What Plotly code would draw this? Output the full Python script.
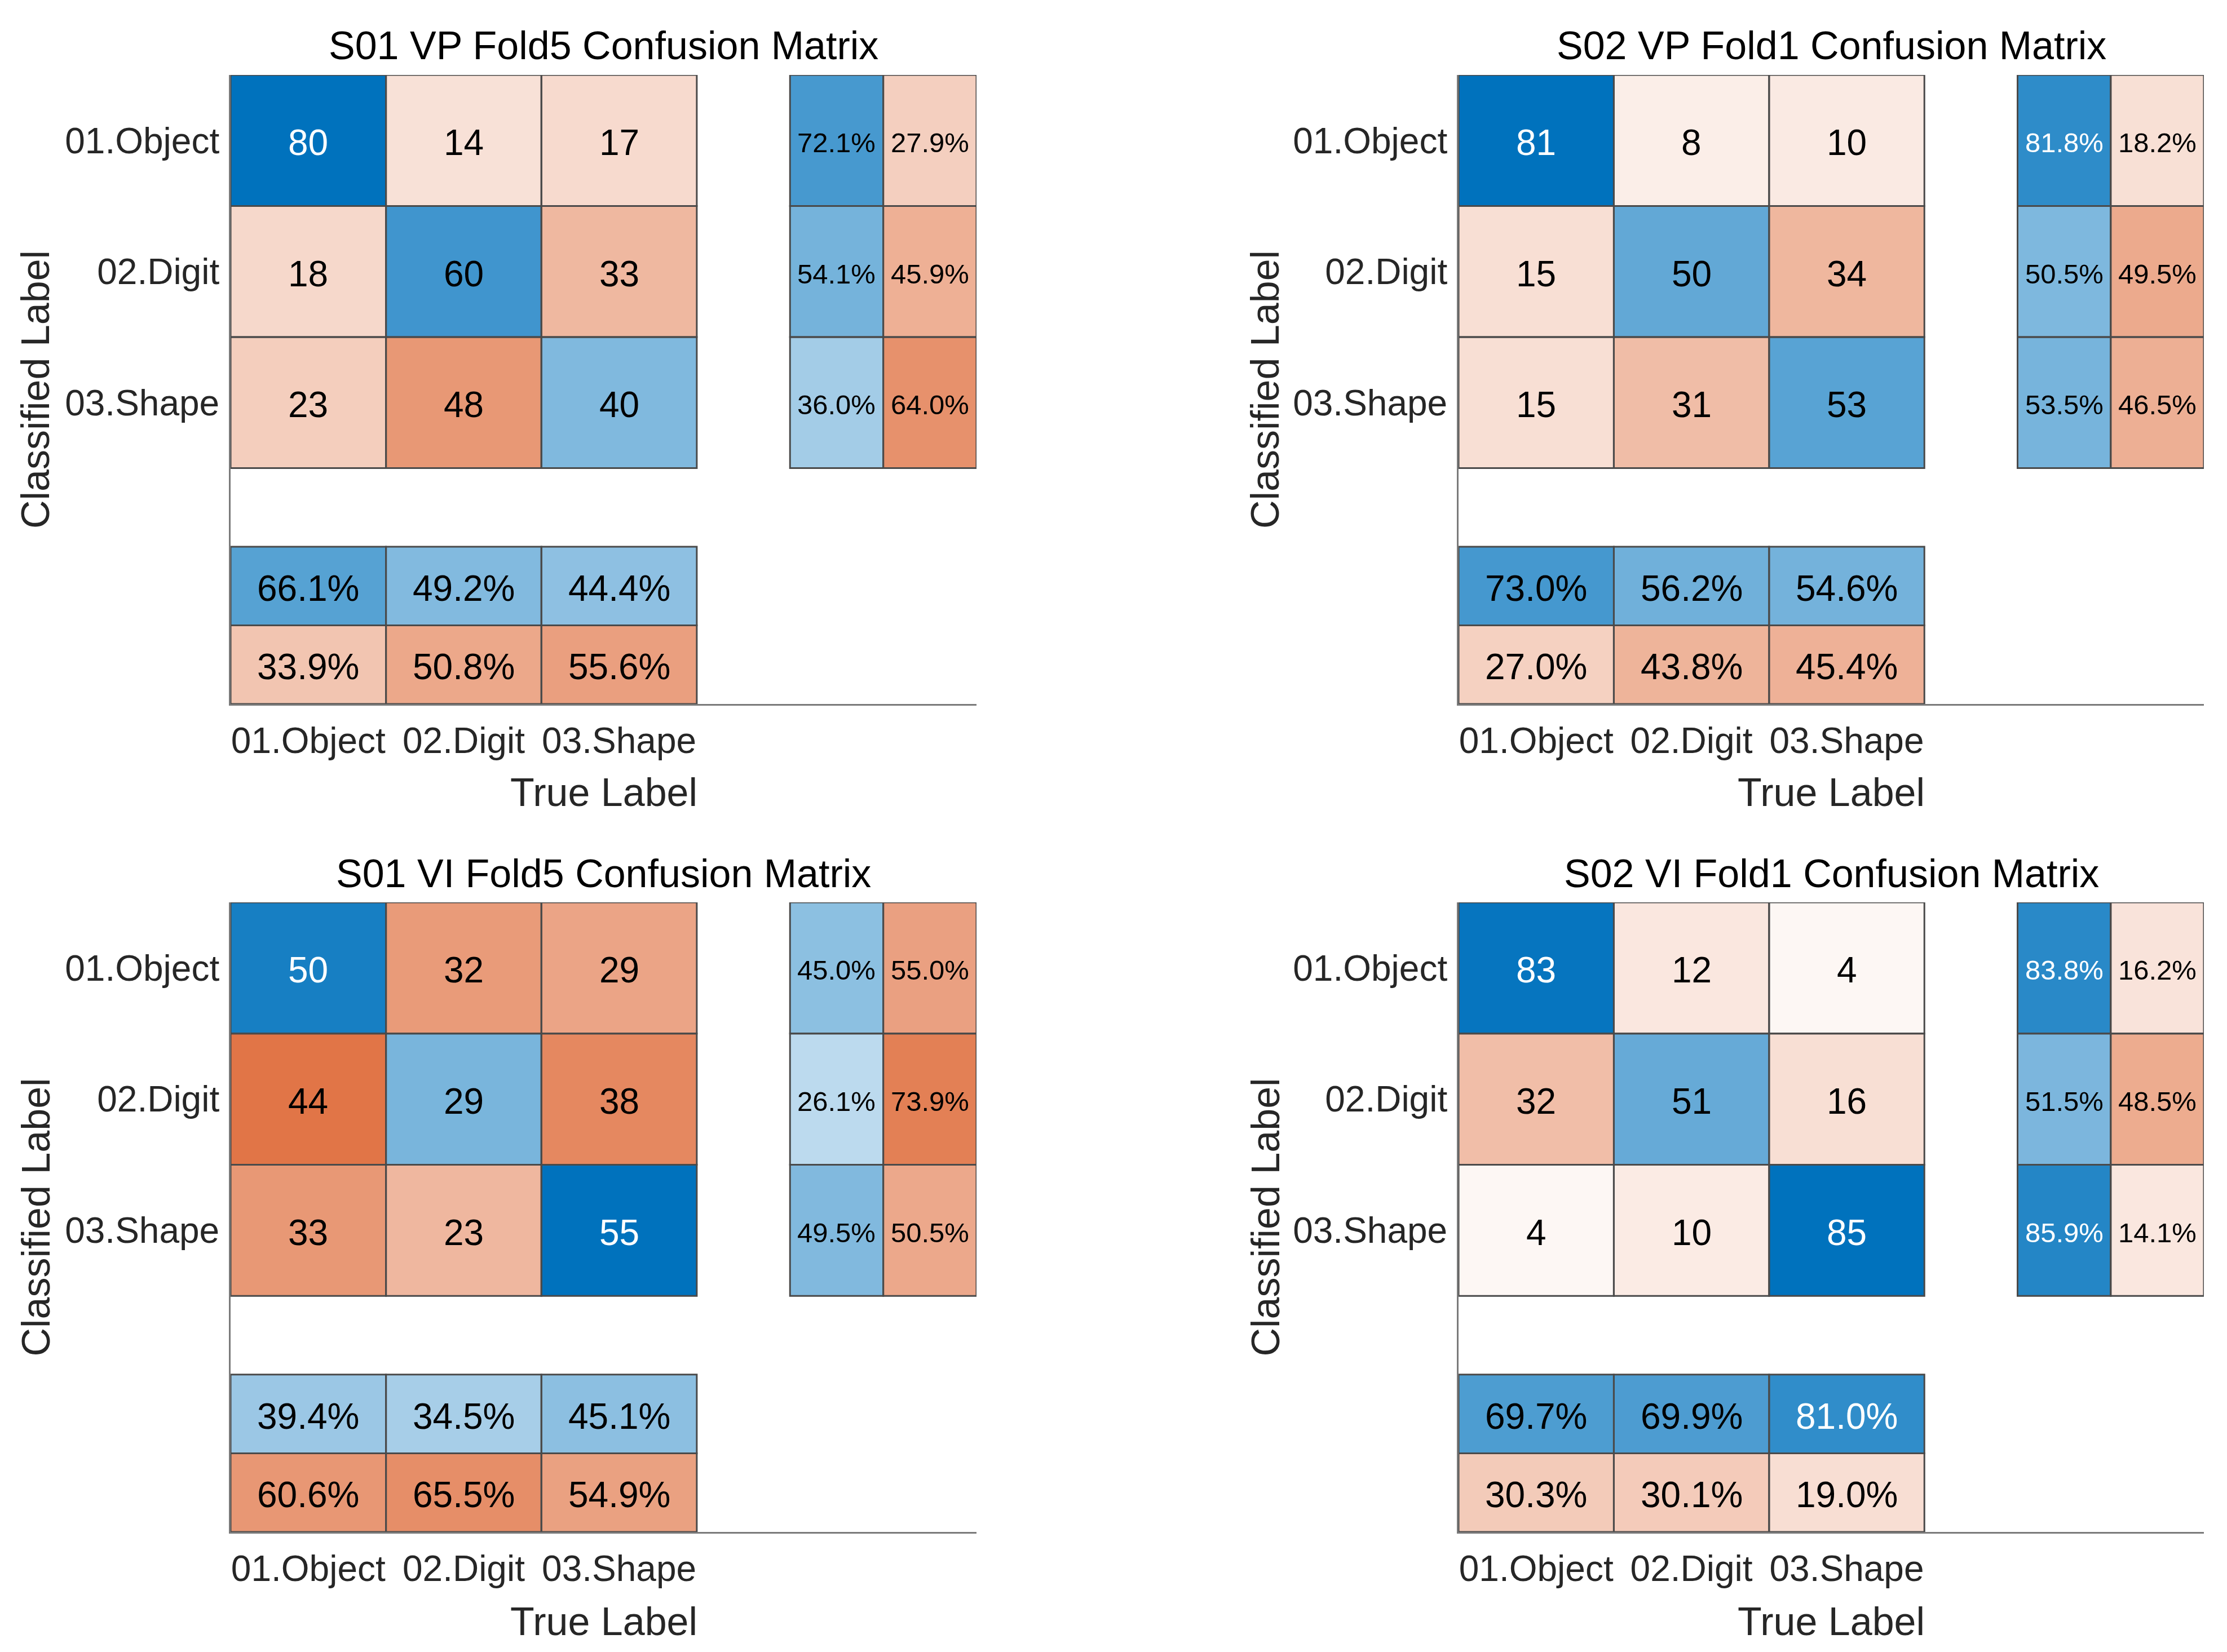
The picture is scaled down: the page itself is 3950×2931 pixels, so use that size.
import plotly.graph_objects as go

# ---------------- data ----------------
classes = ["01.Object", "02.Digit", "03.Shape"]
titles = ["S01 VP Fold5 Confusion Matrix", "S02 VP Fold1 Confusion Matrix",
          "S01 VI Fold5 Confusion Matrix", "S02 VI Fold1 Confusion Matrix"]

# rows = classified label, columns = true label
counts_s01_vp = [[80, 14, 17], [18, 60, 33], [23, 48, 40]]
counts_s02_vp = [[81, 8, 10], [15, 50, 34], [15, 31, 53]]
counts_s01_vi = [[50, 32, 29], [44, 29, 38], [33, 23, 55]]
counts_s02_vi = [[83, 12, 4], [32, 51, 16], [4, 10, 85]]

# row summary: [correct %, incorrect %] for each classified row
row_pct_s01_vp = [[72.1, 27.9], [54.1, 45.9], [36.0, 64.0]]
row_pct_s02_vp = [[81.8, 18.2], [50.5, 49.5], [53.5, 46.5]]
row_pct_s01_vi = [[45.0, 55.0], [26.1, 73.9], [49.5, 50.5]]
row_pct_s02_vi = [[83.8, 16.2], [51.5, 48.5], [85.9, 14.1]]

# column summary: first row correct %, second row incorrect % per true class
col_pct_s01_vp = [[66.1, 49.2, 44.4], [33.9, 50.8, 55.6]]
col_pct_s02_vp = [[73.0, 56.2, 54.6], [27.0, 43.8, 45.4]]
col_pct_s01_vi = [[39.4, 34.5, 45.1], [60.6, 65.5, 54.9]]
col_pct_s02_vi = [[69.7, 69.9, 81.0], [30.3, 30.1, 19.0]]

panels = [
    (counts_s01_vp, row_pct_s01_vp, col_pct_s01_vp),
    (counts_s02_vp, row_pct_s02_vp, col_pct_s02_vp),
    (counts_s01_vi, row_pct_s01_vi, col_pct_s01_vi),
    (counts_s02_vi, row_pct_s02_vi, col_pct_s02_vi),
]

# ---------------- style / layout ----------------
W, H = 3950, 2931
FONT = "Liberation Sans, Arial, Helvetica, sans-serif"
BLUE = "#0072BD"
RED = "#D95319"
EDGE = "#4a4a4a"
AXC = "#7a7a7a"
TXT = "#262626"
cs = [[0.0, RED], [0.5, "#FFFFFF"], [1.0, BLUE]]

GAP = 0.6     # gap between matrix and summaries (cell units)
SW = 0.6      # summary cell size (cell units)
TOTAL = 3 + GAP + 2 * SW
TSHIFT = -4   # small downward nudge of cell texts (px)

xdoms = [(409 / W, 1732 / W), (2587 / W, 3909 / W)]
ydoms = [(1 - 1249 / H, 1 - 133 / H), (1 - 2718 / H, 1 - 1601 / H)]
title_px_y = [81, 1550]
xlab_px_y = [1406, 2877]
ylab_px_x = [63, 2244]

main_c = [i + 0.5 for i in range(3)]
sum_c = [3 + GAP + SW * (k + 0.5) for k in range(2)]
main_e = [(i, i + 1) for i in range(3)]
sum_e = [(3 + GAP + SW * k, 3 + GAP + SW * (k + 1)) for k in range(2)]

fig = go.Figure()
shapes = []
annotations = []


def tcolor(v):
    return "white" if v > 0.805 else "black"


def cell_text(xa, ya, x, y, text, color, size):
    annotations.append(dict(text=text, xref=xa, yref=ya, x=x, y=y, xanchor="center",
                            yanchor="middle", yshift=TSHIFT, showarrow=False,
                            font=dict(size=size, color=color, family=FONT)))


for p, (counts, rowp, colp) in enumerate(panels):
    col = p % 2
    row = p // 2
    idx = "" if p == 0 else str(p + 1)
    xa, ya = "x" + idx, "y" + idx
    mx = max(max(r) for r in counts)

    # main matrix
    zm = [[(counts[i][j] / mx) if i == j else -(counts[i][j] / mx) for j in range(3)] for i in range(3)]
    fig.add_trace(go.Heatmap(x=main_c, y=main_c, z=zm, colorscale=cs, zmin=-1, zmax=1,
                             showscale=False, hoverinfo="skip", xaxis=xa, yaxis=ya))
    # row summary
    zr = [[rowp[i][0] / 100, -rowp[i][1] / 100] for i in range(3)]
    fig.add_trace(go.Heatmap(x=sum_c, y=main_c, z=zr, colorscale=cs, zmin=-1, zmax=1,
                             showscale=False, hoverinfo="skip", xaxis=xa, yaxis=ya))
    # column summary
    zc = [[colp[0][j] / 100 for j in range(3)], [-colp[1][j] / 100 for j in range(3)]]
    fig.add_trace(go.Heatmap(x=main_c, y=sum_c, z=zc, colorscale=cs, zmin=-1, zmax=1,
                             showscale=False, hoverinfo="skip", xaxis=xa, yaxis=ya))

    # texts
    for i in range(3):
        for j in range(3):
            cell_text(xa, ya, main_c[j], main_c[i], str(counts[i][j]),
                      tcolor(counts[i][j] / mx), 64)
    for i in range(3):
        for k in range(2):
            cell_text(xa, ya, sum_c[k], main_c[i], f"{rowp[i][k]:.1f}%",
                      tcolor(rowp[i][k] / 100) if k == 0 else "black", 49)
    for k in range(2):
        for j in range(3):
            cell_text(xa, ya, main_c[j], sum_c[k], f"{colp[k][j]:.1f}%",
                      tcolor(colp[k][j] / 100) if k == 0 else "black", 64)

    # cell borders
    blocks = [(main_e, main_e), (sum_e, main_e), (main_e, sum_e)]
    for xe, ye in blocks:
        for (x0, x1) in xe:
            for (y0, y1) in ye:
                shapes.append(dict(type="rect", xref=xa, yref=ya, x0=x0, x1=x1, y0=y0, y1=y1,
                                   line=dict(color=EDGE, width=3), fillcolor="rgba(0,0,0,0)",
                                   layer="above"))

    xd, yd = xdoms[col], ydoms[row]
    fig.update_layout(**{
        "xaxis" + idx: dict(domain=list(xd), range=[0, TOTAL], anchor=ya, tickvals=main_c,
                            ticktext=classes, ticks="", showgrid=False, zeroline=False,
                            showline=True, linecolor=AXC, linewidth=3, layer="below traces",
                            tickfont=dict(size=64, color=TXT, family=FONT),
                            ticklabelstandoff=7, fixedrange=True),
        "yaxis" + idx: dict(domain=list(yd), range=[TOTAL, 0], anchor=xa, tickvals=main_c,
                            ticktext=classes, ticks="", showgrid=False, zeroline=False,
                            showline=True, linecolor=AXC, linewidth=3, layer="below traces",
                            tickfont=dict(size=64, color=TXT, family=FONT),
                            ticklabelstandoff=4, fixedrange=True),
    })

    xc = (xd[0] + xd[1]) / 2
    annotations.append(dict(text=titles[p], xref="paper", yref="paper", x=xc,
                            y=1 - title_px_y[row] / H, xanchor="center", yanchor="middle",
                            showarrow=False, font=dict(size=70, color="black", family=FONT)))
    annotations.append(dict(text="True Label", xref="paper", yref="paper", x=xc,
                            y=1 - xlab_px_y[row] / H, xanchor="center", yanchor="middle",
                            showarrow=False, font=dict(size=70, color=TXT, family=FONT)))
    annotations.append(dict(text="Classified Label", xref="paper", yref="paper",
                            x=ylab_px_x[col] / W, y=(yd[0] + yd[1]) / 2, xanchor="center",
                            yanchor="middle", textangle=-90, showarrow=False,
                            font=dict(size=70, color=TXT, family=FONT)))

fig.update_layout(width=W, height=H, margin=dict(l=0, r=0, t=0, b=0),
                  paper_bgcolor="white", plot_bgcolor="white", showlegend=False,
                  font=dict(family=FONT, color=TXT), shapes=shapes, annotations=annotations)

fig.write_html("out.html", config={"displayModeBar": False},
               post_script="document.body.style.margin='0';document.body.style.overflow='hidden';")
